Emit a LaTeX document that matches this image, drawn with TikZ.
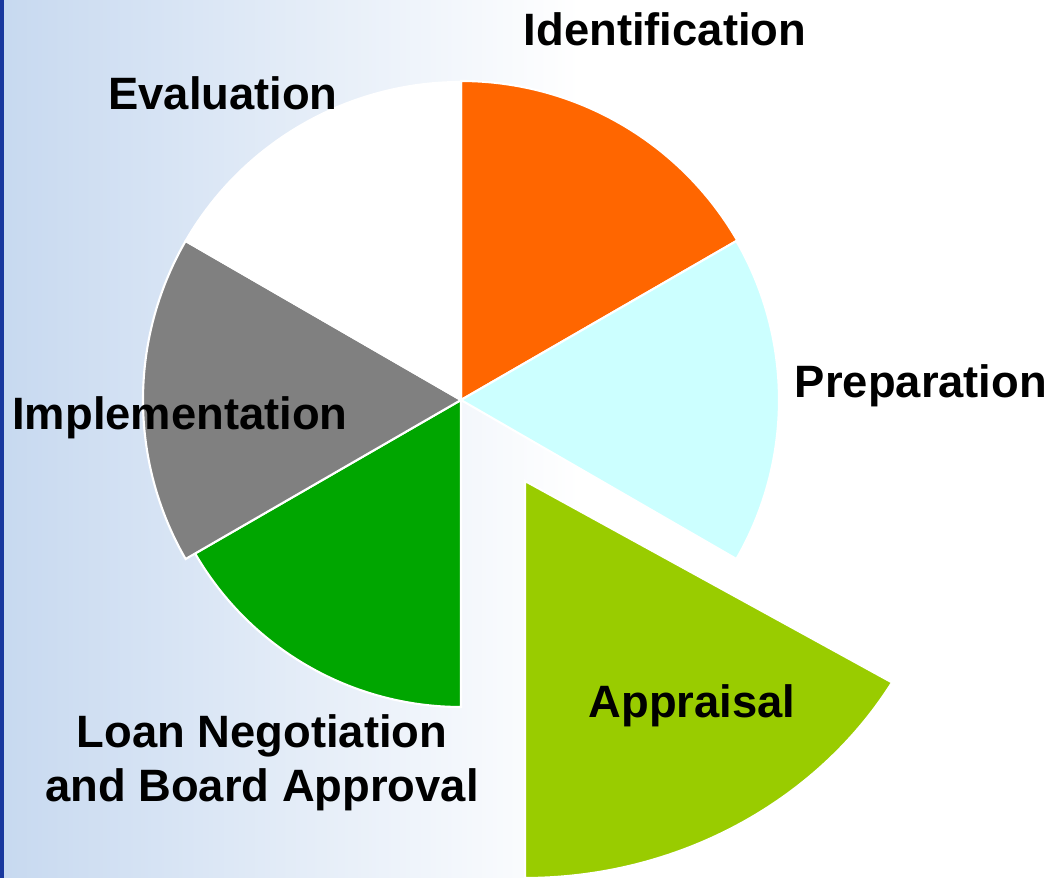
\documentclass[tikz,border=0pt]{standalone}
\usepackage{fontspec}
\setmainfont{Liberation Sans}
\usetikzlibrary{calc}
\definecolor{IdentClr}{rgb}{1,0.4,0}
\definecolor{PrepClr}{rgb}{0.8,1,1}
\definecolor{ApprClr}{rgb}{0.6,0.8,0}
\definecolor{LoanClr}{rgb}{0,0.65,0}
\definecolor{ImplClr}{rgb}{0.5,0.5,0.5}
\definecolor{EvalClr}{rgb}{1,1,1}
\definecolor{BackClr}{rgb}{0.78,0.85,0.94}
\definecolor{EdgeClr}{rgb}{0.1,0.22,0.62}

\begin{document}
\begin{tikzpicture}[x=.01cm,y=.01cm,
  slice/.style={draw=white,line width=.6pt},
  lbl/.style={anchor=base,inner sep=0pt,align=center,
    font=\bfseries\fontsize{12.9}{15.4}\selectfont}]
\useasboundingbox (0,0) rectangle (1053,878);
\clip (0,0) rectangle (1053,878);

\fill[white] (0,0) rectangle (1053,878);
\shade[left color=BackClr,right color=white] (0,0) rectangle (580,878);
\fill[EdgeClr] (0,0) rectangle (4,878);

\coordinate (O) at (461,478);
\coordinate (A) at (525,397);

\fill[IdentClr,slice] (O) -- ++(90:319) arc[start angle=90,end angle=30,radius=319] -- cycle;
\fill[PrepClr,slice] (O) -- ++(30:318) arc[start angle=30,end angle=-30,radius=318] -- cycle;
\fill[LoanClr,slice] (O) -- ++(-90:307) arc[start angle=-90,end angle=-150,radius=307] -- cycle;
\fill[ImplClr,slice] (O) -- ++(210:318) arc[start angle=210,end angle=150,radius=318] -- cycle;
\fill[EvalClr,slice] (O) -- ++(150:318) arc[start angle=150,end angle=90,radius=318] -- cycle;
\fill[ApprClr,slice] (A) -- ++(0,-397) arc[start angle=-90,end angle=-30.5,x radius=426,y radius=397] -- cycle;

\node[lbl] (ident) at (665,832) {Identification};
\node[lbl] (prep) at (921,480) {Preparation};
\node[lbl] (appr) at (692,160) {Appraisal};
\node[lbl] (loan) at (262,76) {Loan Negotiation\\and Board Approval};
\node[lbl] (impl) at (180,448) {Implementation};
\node[lbl] (eval) at (223,768) {Evaluation};

\end{tikzpicture}
\end{document}
